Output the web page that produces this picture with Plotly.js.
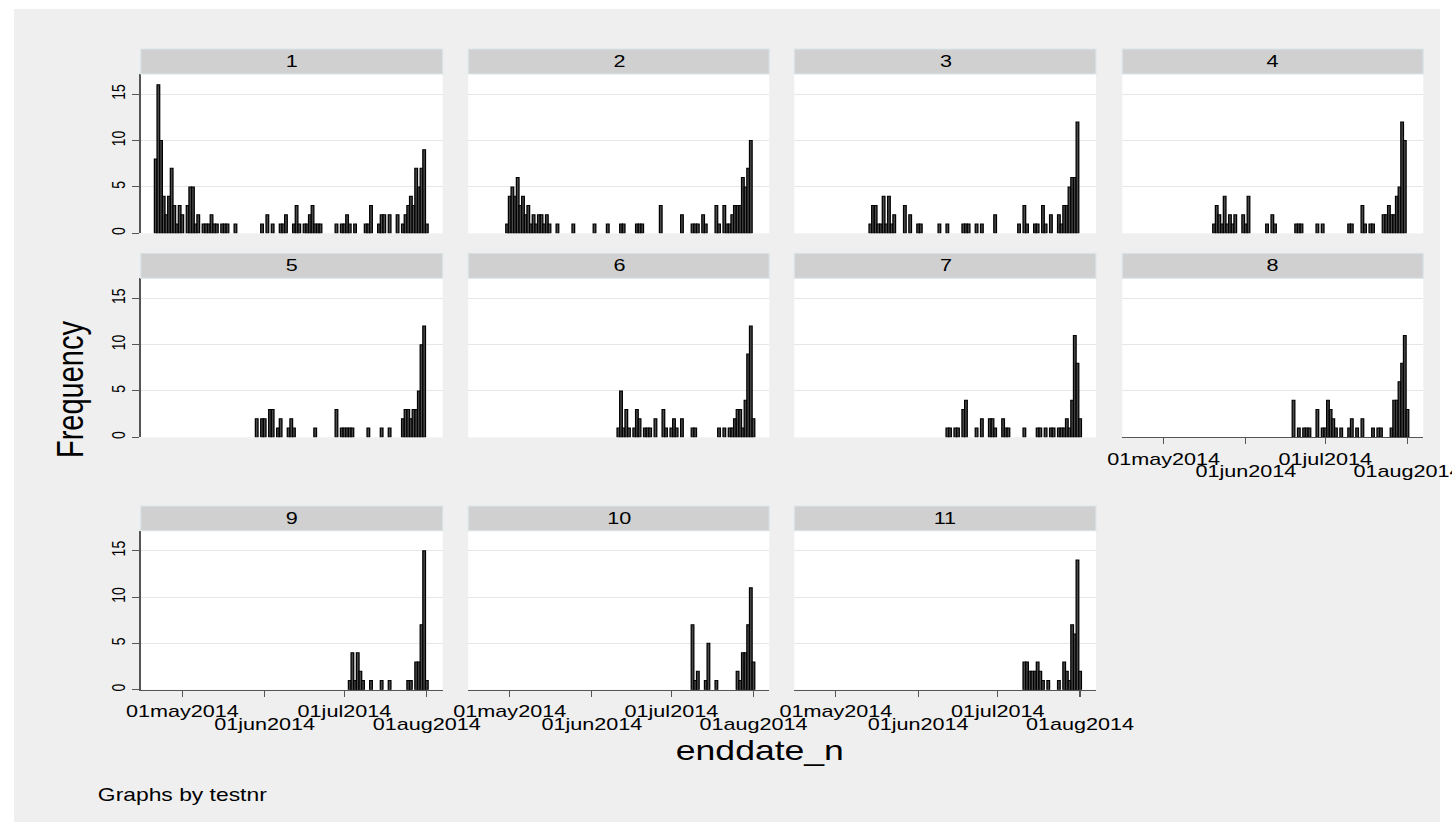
<!DOCTYPE html>
<html>
<head>
<meta charset="utf-8">
<script src="https://cdn.plot.ly/plotly-3.0.1.min.js"></script>
<style>
html, body { margin: 0; padding: 0; background: #ffffff; overflow: hidden; }
#bg { position: absolute; left: 14px; top: 9px; width: 1426px; height: 813px; background: #efefef; }
#chart { position: absolute; left: 0; top: 0; width: 1143px; height: 835px; transform: scaleX(1.2703); transform-origin: 0 0; }
</style>
</head>
<body>
<div id="bg"></div>
<div id="chart"></div>
<script>
// ---- data (day index k = days after 21apr2014, count per day) ----
const panelLabels = ['1','2','3','4','5','6','7','8','9','10','11'];
const tickDates = ['2014-05-01','2014-06-01','2014-07-01','2014-08-01'];
const tickLabels = ['01may2014','01jun2014','01jul2014','01aug2014'];
const yTicks = [0, 5, 10, 15];

const days1 = [0,1,2,3,4,5,6,7,8,9,10,12,13,14,15,16,18,19,20,21,22,23,25,26,27,30,40,42,44,47,48,49,52,53,54,56,57,58,59,60,61,62,68,70,71,72,73,75,79,80,81,84,85,86,88,91,93,94,95,96,97,98,99,100,101,102];
const freq1 = [8,16,10,4,2,4,7,3,1,3,2,3,5,5,1,2,1,1,1,2,1,1,1,1,1,1,1,2,1,1,1,2,1,3,1,1,1,2,3,1,1,1,1,1,1,2,1,1,1,1,3,1,2,2,2,2,1,2,3,4,3,7,5,7,9,1];

const days2 = [9,10,11,12,13,14,15,16,17,18,19,20,21,22,23,24,25,28,34,42,47,52,53,58,59,60,67,75,79,80,81,83,84,88,89,91,92,93,94,95,96,97,98,99,100,101];
const freq2 = [1,4,5,4,6,3,4,2,3,1,2,1,2,2,1,2,1,1,1,1,1,1,1,1,1,1,3,2,1,1,1,2,1,3,1,3,1,1,2,3,3,3,6,5,7,10];

const days3 = [23,24,25,26,27,28,29,30,31,32,36,38,41,42,49,52,58,59,60,63,65,70,79,81,82,85,86,88,89,91,94,95,96,97,98,99,100,101];
const freq3 = [1,3,3,1,1,4,1,4,1,2,3,2,1,1,1,1,1,1,1,1,1,2,1,3,1,1,1,3,1,2,2,1,3,3,5,6,6,12];

const days4 = [29,30,31,32,33,34,35,36,37,40,41,42,49,51,52,60,61,62,68,70,80,81,85,86,88,89,93,94,95,96,97,98,99,100,101];
const freq4 = [1,3,2,1,4,1,2,1,2,2,1,4,1,2,1,1,1,1,1,1,1,1,3,1,1,1,2,2,3,2,2,4,5,12,10];

const days5 = [38,40,41,43,44,46,47,50,51,52,60,68,70,71,72,73,74,80,85,88,93,94,95,96,97,98,99,100,101];
const freq5 = [2,2,2,3,3,1,2,1,2,1,1,3,1,1,1,1,1,1,1,1,2,3,3,2,3,3,5,10,12];

const days6 = [51,52,53,54,55,57,58,59,61,62,63,65,68,69,71,72,73,75,79,80,89,91,93,94,95,96,97,98,99,100,101,102];
const freq6 = [1,5,1,3,1,1,3,2,1,1,1,2,3,1,1,2,1,2,1,1,1,1,1,1,2,3,3,1,4,9,12,2];

const days7 = [52,53,55,56,58,59,63,65,68,69,70,73,74,75,81,86,87,89,91,92,94,95,96,97,98,99,100,101,102];
const freq7 = [1,1,1,1,3,4,1,2,2,2,1,2,1,1,1,1,1,1,1,1,1,1,1,2,1,4,11,8,2];

const days8 = [59,61,63,64,65,68,70,71,72,73,74,75,77,80,81,83,85,89,91,92,96,97,98,99,100,101,102];
const freq8 = [4,1,1,1,1,3,1,1,4,3,2,1,1,1,2,1,2,1,1,1,1,4,4,6,8,11,3];

const days9 = [73,74,75,76,77,78,81,85,88,95,96,98,99,100,101,102];
const freq9 = [1,4,1,4,2,1,1,1,1,1,1,3,3,7,15,1];

const days10 = [79,80,81,84,85,88,96,97,98,99,100,101,102];
const freq10 = [7,1,2,1,5,1,2,1,4,4,7,11,3];

const days11 = [81,82,83,84,85,86,87,88,90,94,96,97,98,99,100,101,102];
const freq11 = [3,3,2,2,2,3,2,1,1,1,3,2,1,7,6,14,2];

const panelDays = [days1,days2,days3,days4,days5,days6,days7,days8,days9,days10,days11];
const panelFreq = [freq1,freq2,freq3,freq4,freq5,freq6,freq7,freq8,freq9,freq10,freq11];

// ---- helpers ----
function dayToDate(k) {
  const d = new Date(Date.UTC(2014, 3, 21 + k));
  return d.toISOString().slice(0, 10);
}

const W = 1452, H = 835;
const colPx = [[140.7, 442.7], [468.3, 769.3], [794.3, 1096.0], [1122.3, 1423.3]];
const rowPx = [[74.0, 233.3], [278.3, 437.3], [530.7, 689.7]];
const hdrPx = [[49.0, 74.0], [253.3, 278.3], [506.0, 530.7]];
const fx = p => p / W;
const fy = p => 1 - p / H;

const xRange = ['2014-04-15 08:24', '2014-08-06 23:17'];
const yRange = [0, 17.16];
const FONT = 'Liberation Sans, Arial, Helvetica, sans-serif';
const DAY_MS = 86400000;

const traces = [];
const layout = {
  width: 1143, height: 835,
  margin: {l: 0, r: 0, t: 0, b: 0, pad: 0},
  paper_bgcolor: 'rgba(0,0,0,0)',
  plot_bgcolor: '#ffffff',
  showlegend: false,
  bargap: 0,
  font: {family: FONT, color: '#000'},
  shapes: [],
  annotations: []
};

panelLabels.forEach((lab, i) => {
  const row = Math.floor(i / 4), col = i % 4;
  const ax = i === 0 ? '' : String(i + 1);
  traces.push({
    type: 'bar',
    x: panelDays[i].map(dayToDate),
    y: panelFreq[i],
    width: DAY_MS,
    xaxis: 'x' + ax, yaxis: 'y' + ax,
    marker: {color: '#4a4a4a', line: {color: '#000000', width: 1}},
    hoverinfo: 'x+y'
  });
  const hasX = i >= 7;
  layout['xaxis' + ax] = {
    domain: [fx(colPx[col][0]), fx(colPx[col][1])],
    anchor: 'y' + ax,
    type: 'date',
    range: xRange,
    showgrid: false, zeroline: false,
    showline: hasX, linecolor: '#555', linewidth: 1,
    ticks: hasX ? 'outside' : '', ticklen: 6, tickcolor: '#555', tickwidth: 1,
    tickvals: tickDates,
    ticktext: [tickLabels[0], '', tickLabels[2], ''],
    showticklabels: hasX,
    ticklabeloverflow: 'allow',
    tickfont: {family: FONT, size: 17, color: '#000'},
    tickangle: 0,
    fixedrange: true
  };
  layout['yaxis' + ax] = {
    domain: [fy(rowPx[row][1]), fy(rowPx[row][0])],
    anchor: 'x' + ax,
    range: yRange,
    tickvals: yTicks,
    showgrid: true, gridcolor: '#e6e6e6', gridwidth: 1,
    zeroline: false,
    showline: col === 0, linecolor: '#555', linewidth: 1,
    ticks: col === 0 ? 'outside' : '', ticklen: 6, tickcolor: '#555',
    showticklabels: col === 0,
    tickangle: -90,
    tickfont: {family: FONT, size: 14, color: '#000'},
    fixedrange: true
  };
  // strip header
  layout.shapes.push({
    type: 'rect', xref: 'paper', yref: 'paper',
    x0: fx(colPx[col][0]), x1: fx(colPx[col][1]),
    y0: fy(hdrPx[row][1]), y1: fy(hdrPx[row][0]),
    fillcolor: '#d0d0d0', line: {color: '#dbe5e9', width: 1}, layer: 'above'
  });
  layout.annotations.push({
    xref: 'paper', yref: 'paper',
    x: fx((colPx[col][0] + colPx[col][1]) / 2),
    y: fy((hdrPx[row][0] + hdrPx[row][1]) / 2),
    text: lab, showarrow: false, xanchor: 'center', yanchor: 'middle',
    font: {family: FONT, size: 17, color: '#000'}
  });
});

// second-row (staggered) tick labels on overlay axes for bottom panels
[8, 9, 10, 11].forEach((p, j) => {
  const id = String(12 + j);
  layout['xaxis' + id] = {
    overlaying: 'x' + p, anchor: 'y' + p, side: 'bottom',
    type: 'date', range: xRange,
    showgrid: false, zeroline: false, showline: false, ticks: '',
    tickvals: [tickDates[1], tickDates[3]],
    ticktext: [tickLabels[1], tickLabels[3]],
    ticklabelstandoff: 22,
    ticklabeloverflow: 'allow',
    tickfont: {family: FONT, size: 17, color: '#000'},
    fixedrange: true
  };
  traces.push({type: 'bar', x: [], y: [], xaxis: 'x' + id, yaxis: 'y' + p, hoverinfo: 'skip'});
});

layout.annotations.push(
  {xref: 'paper', yref: 'paper', x: fx(70), y: fy(389), text: 'Frequency', textangle: -90,
   showarrow: false, xanchor: 'center', yanchor: 'middle', font: {family: FONT, size: 29, color: '#000'}},
  {xref: 'paper', yref: 'paper', x: fx(760), y: fy(750), text: 'enddate_n',
   showarrow: false, xanchor: 'center', yanchor: 'middle', font: {family: FONT, size: 28, color: '#000'}},
  {xref: 'paper', yref: 'paper', x: fx(95), y: fy(795), text: 'Graphs by testnr',
   showarrow: false, xanchor: 'left', yanchor: 'middle', font: {family: FONT, size: 18, color: '#000'}}
);

Plotly.newPlot('chart', traces, layout, {staticPlot: true, displayModeBar: false});
</script>
</body>
</html>
